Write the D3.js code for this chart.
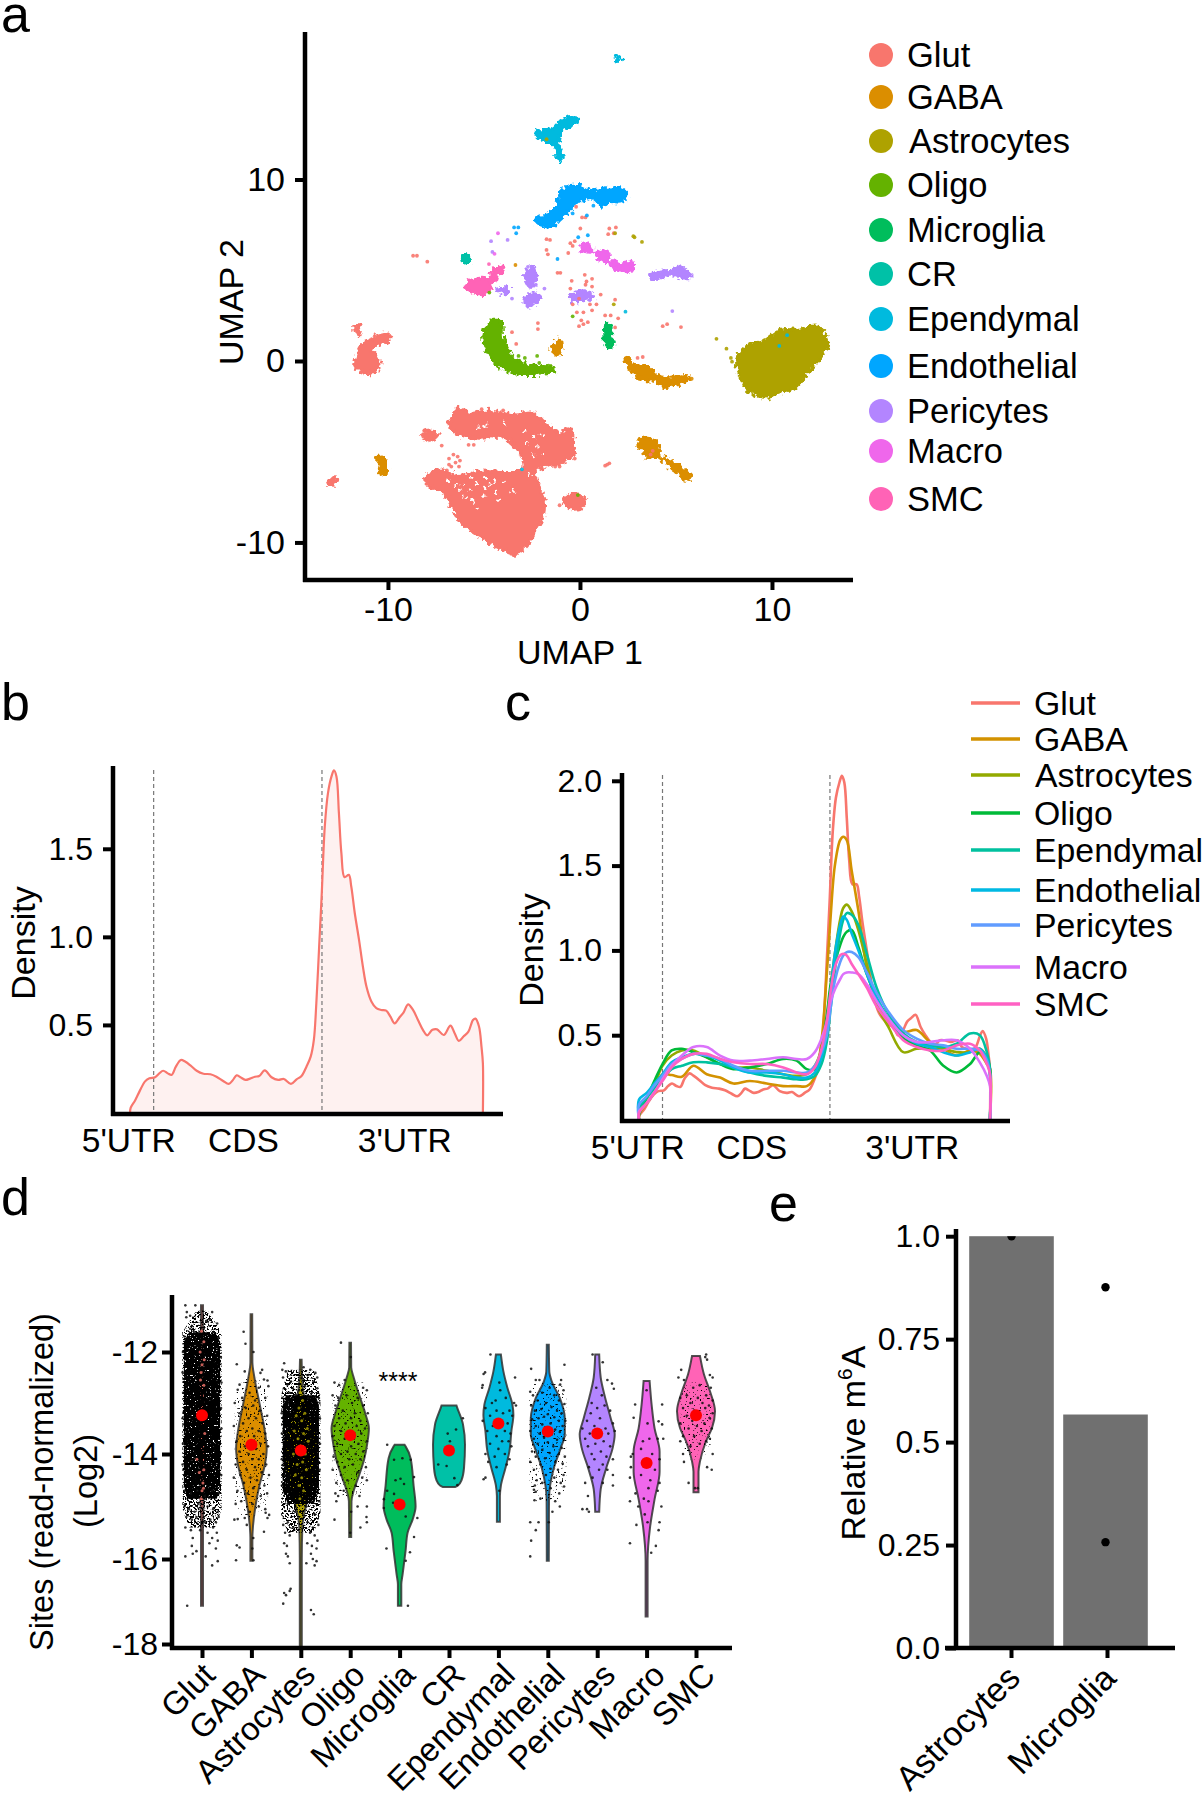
<!DOCTYPE html>
<html><head><meta charset="utf-8">
<script src="https://cdn.jsdelivr.net/npm/d3@7"></script>
<style>html,body{margin:0;padding:0;background:#fff}text{font-family:"Liberation Sans",Arial,sans-serif;fill:#000}</style>
</head><body><div id="c"></div>
<script>
// ---------- data ----------
const types11=["Glut","GABA","Astrocytes","Oligo","Microglia","CR","Ependymal","Endothelial","Pericytes","Macro","SMC"];
const colors11=["#F8766D","#DB8E00","#AEA200","#64B200","#00BD5C","#00C1A7","#00BADE","#00A6FF","#B385FF","#EF67EB","#FF63B6"];
const types9=["Glut","GABA","Astrocytes","Oligo","Ependymal","Endothelial","Pericytes","Macro","SMC"];
const colors9=["#F8766D","#D39200","#93AA00","#00BA38","#00C19F","#00B9E3","#619CFF","#DB72FB","#FF61C3"];

// UMAP: dense cell clouds as outlines [type,[u,v,...]], isolated cells as pairs
const umapClouds=[
["Glut",[-6.7,-3.2,-6.37,-2.59,-5.69,-2.88,-4.9,-2.77,-4,-2.88,-3.32,-2.98,-2.42,-2.88,-1.85,-3.42,-1.06,-3.97,-.43,-3.75,-.38,-4.73,-.27,-5.05,-.72,-5.49,-1.51,-5.71,-1.96,-5.82,-2.3,-6.03,-2.23,-6.69,-1.85,-7.78,-1.96,-8.65,-2.42,-9.52,-2.87,-10.28,-3.43,-10.65,-4.22,-10.28,-5.12,-9.74,-6.03,-9.08,-6.59,-8.21,-7.04,-7.34,-7.95,-6.8,-8.01,-6.36,-7.49,-5.99,-6.25,-6.36,-5.35,-6.08,-4,-6.14,-2.98,-6.03,-2.98,-5.38,-3.43,-4.62,-4,-4.18,-5.35,-4.25,-6.48,-3.97,-6.82,-3.42]],
["Glut",[-11.72,1.92,-11.49,1.92,-11.4,1.48,-11.63,1.48]],
["Glut",[-11.67,.17,-11.33,.94,-10.77,1.26,-9.98,1.48,-9.91,1.2,-10.54,.94,-10.88,.61,-10.54,.28,-10.43,-.26,-10.88,-.7,-11.33,-.59,-11.72,-.26]],
["Glut",[-.84,-7.6,-.16,-7.39,.29,-7.67,.18,-8,-.27,-8.17,-.72,-7.95]],
["Glut",[-8.17,-3.97,-7.83,-3.86,-7.38,-4.03,-7.61,-4.34,-7.95,-4.4,-8.17,-4.18]],
["Glut",[-13.14,-6.73,-12.8,-6.43,-12.64,-6.58,-13.02,-6.86]],
["GABA",[-10.59,-5.34,-10.2,-5.34,-10.05,-6.14,-10.41,-6.21,-10.36,-5.71]],
["GABA",[-1.17,1.26,-.99,1.05,-1.11,.39,-1.47,.5,-1.33,.89]],
["GABA",[2.39,.24,2.89,-.26,3.45,-.26,4.02,-.81,4.58,-.92,5.6,-.81,5.71,-1.02,4.7,-1.35,4.47,-1.46,3.91,-1.07,3.12,-.98,2.6,-.48]],
["GABA",[3.05,-4.4,3.45,-4.25,4.02,-4.51,4.13,-5.16,5.03,-5.71,5.76,-6.36,5.67,-6.58,4.92,-6.03,4.02,-5.27,3.45,-5.34,3.34,-4.84,3.05,-4.73]],
["Astrocytes",[8.19,.17,8.76,.83,9.66,1.15,10.45,1.7,11.47,1.7,12.26,1.92,12.82,1.37,12.87,.72,12.26,-.15,11.69,-.92,11.13,-1.57,10.45,-1.72,9.55,-2,8.87,-1.68,8.31,-.81]],
["Oligo",[-4.45,2.24,-4.11,2.14,-4,1.15,-3.43,.17,-2.64,-.26,-1.4,-.37,-1.33,-.59,-2.42,-.74,-3.32,-.7,-4.22,-.26,-4.9,.72,-5.01,1.37,-4.79,2.03]],
["Microglia",[1.31,1.98,1.6,1.98,1.6,1.37,1.76,.94,1.6,.72,1.38,.83,1.24,1.37]],
["CR",[-6.12,5.77,-5.85,5.84,-5.76,5.4,-5.98,5.4]],
["Ependymal",[1.83,16.62,2.1,16.78,2.1,16.58]],
["Ependymal",[-2.3,12.64,-1.51,12.75,-1.06,13.18,-.61,13.46,-.16,13.4,-.16,13.14,-.95,12.7,-1.11,12.16,-.93,11.07,-1.15,11.07,-1.29,11.87,-1.74,12.09,-2.19,12.37]],
["Endothelial",[-2.3,7.91,-1.74,8.06,-1.24,8.56,-.95,9.43,-.2,9.69,.52,9.39,1.87,9.54,2.44,9.22,2.21,8.78,1.53,8.78,1.2,8.52,.63,9,-.16,8.74,-.61,8.24,-1.06,7.8,-1.56,7.3,-1.96,7.47,-2.3,7.65]],
["Pericytes",[3.68,4.79,4.81,5.03,5.26,5.23,5.71,4.75,5.67,4.53,4.92,4.75,3.79,4.53]],
["Pericytes",[-.5,3.55,-.16,3.81,.41,3.81,.7,3.51,.18,3.38,-.38,3.29]],
["Pericytes",[-2.87,3.33,-2.53,3.73,-2.08,3.66,-2.3,3.22,-2.71,2.98]],
["Pericytes",[-2.87,4.86,-2.42,5.19,-2.3,4.86,-2.42,4.1,-2.64,4.1]],
["Pericytes",[-4.33,3.99,-3.72,3.99,-3.88,3.73,-4.22,3.77]],
["Macro",[.07,6.43,.63,6.27,.63,6.01,.11,6.12]],
["Macro",[.86,5.9,1.42,6.06,1.56,5.58,1.08,5.51]],
["Macro",[1.56,5.51,2.21,5.25,2.21,5.03,1.65,5.19]],
["Macro",[2.21,5.25,2.73,5.51,2.78,5.19,2.44,4.86,2.21,5.03]],
["SMC",[-5.98,4.16,-5.35,4.53,-4.79,4.47,-4.63,3.99,-5.12,3.66,-5.69,3.83]],
["SMC",[-4.72,4.53,-4.49,5.03,-4,5.23,-3.95,5.01,-4.33,4.75,-4.49,4.31]]
];
const umapGaps=[-6.03,-6.8,-5.69,-7.12,-5.35,-6.69,-5.01,-7.02,-6.03,-7.45,-5.58,-7.67,-5.01,-7.45,-4.67,-6.8,-4.33,-7.23,-4,-6.69,-3.54,-7.12,-4.22,-7.67,-5.35,-8.1,-5.35,-3.75,-4.9,-3.53,-4,-3.42,-2.87,-3.86,-2.42,-4.18,-2.19,-4.73,-2.75,-4.51,-1.96,-4.07,-2.42,-5.16,-1.96,-5.16,-2.64,-6.25,-6.48,-6.8,-6.82,-6.58,-6.25,-7.12,-4.9,-6.47,-4.45,-6.58,-5.69,-6.47];
const umapCells={
Glut:[-8.69,5.8,-8.49,5.8,-7.95,5.47,-1.74,6.71,-1.56,6.67,-1.74,6.12,-1.67,5.88,-1.17,4.86,-1.02,4.86,-.5,6.49,-.27,6.6,-.38,6.34,.02,7.3,.11,7.91,.29,7.91,-.2,8.5,1.53,7.3,1.87,7.36,1.47,6.99,1.76,7.04,-.61,5.95,-.43,4.42,.25,4.75,.34,4.38,.63,4.53,-.5,3.99,.29,4.2,.63,4.1,-.38,3.12,-.05,3.44,.52,3.12,.86,3.12,1.08,3.66,1.83,3.38,-.16,2.68,.18,2.68,.63,2.79,.07,2.24,-.05,1.92,.18,2.03,.41,2.14,1.31,2.51,1.6,2.51,1.99,2.35,1.83,1.85,4.31,1.92,4.54,2.03,5.26,1.87,-2.19,2.09,-2.19,1.76,-3.54,1.59,-3.32,.94,3,.17,3.27,.22,3.79,-4.95,3.68,-5.16,1.42,-5.71,1.53,-5.64,1.31,-5.77,-1.06,-7.95,-6.82,-5.38,-6.59,-5.16,-6.37,-5.27,-6.48,-5.6,-6.7,-5.82,-6.3,-5.82,-6.93,-6.03,-6.82,-5.71,-6.25,-5.49,-5.8,-4.62,-5.53,-4.62,-7.2,-4.66,-3.43,-4.51,-3.09,-4.95,-1.29,-5.82,-1.06,-5.82,-.27,-5.38,-.61,-3.75,-5.12,-2.66,-4,-2.72],
GABA:[-3.36,5.29,5.82,-.98],
Astrocytes:[7.11,1.22,7.63,.68,7.86,.17,7.92,-.04,2.78,6.88,2.84,6.82,3.23,6.56,1.83,7.04,1.76,3.12,-1.74,12.22],
Oligo:[-3.2,.28,-2.87,.17,-2.23,.28,-2.12,-.11,-1.63,-.26,-.38,2.46,-4.72,3.77,-3.16,.02,-.11,-7.39],
Ependymal:[2.37,2.72,10.38,.83,-3.02,-5.97,10.79,1.42],
Endothelial:[-3.43,7.36,-3.21,7.36,-3.32,7.04,.36,8.02,.7,8.56,-.09,6.82,.41,6.93,-1.17,5.62,-.38,8.13],
Pericytes:[-4.63,6.6,-3.77,6.67,-4.56,6.01,-3.54,3.44,-1.85,3.99,4.81,2.75,-2.71,5.19,-2.3,4.2],
Macro:[-4.27,7.04,-4.45,5.9],
SMC:[-4.74,5.34]
};

// Density curves (position along transcript in %, density)
const glutPct=[0,.2,1.4,2.8,4.2,5.5,7.1,8.3,9.4,10.7,11.8,13,14.4,15.6,17.2,18.9,20.8,22.8,24.5,26.4,28,29.2,30.2,31.3,32.7,34,35.4,36.6,38.2,40.1,42,43.6,45.6,47.2,48.6,50,51.2,52.1,52.8,53.6,54.3,55.2,56.1,57.1,57.8,58.5,59.2,59.9,60.8,62,62.7,63.7,64.9,66,67,68.4,69.8,71.2,72.6,73.8,75,76.4,77.5,78.8,80.2,81.6,83,84.2,85.7,87,88.9,90.8,92,93.2,94.5,95.9,97.2,97.9,98.9,99.6,100,100];
const glutPanelB=[0,.03,.07,.127,.178,.197,.203,.225,.24,.225,.216,.263,.301,.292,.269,.24,.223,.22,.206,.182,.165,.188,.214,.203,.188,.195,.206,.21,.242,.203,.188,.193,.165,.191,.21,.263,.32,.415,.623,.945,1.229,1.627,1.816,1.911,1.945,1.911,1.703,1.475,1.339,1.352,1.286,1.134,.983,.831,.718,.633,.595,.585,.581,.547,.509,.544,.57,.617,.585,.528,.472,.441,.472,.475,.443,.496,.453,.409,.434,.462,.528,.536,.491,.377,.282,0];
const glutPanelC=[0,.03,.06,.11,.15,.17,.175,.2,.215,.2,.195,.245,.275,.26,.235,.205,.19,.185,.175,.155,.14,.16,.185,.175,.16,.165,.18,.185,.205,.17,.16,.165,.14,.16,.18,.24,.31,.42,.64,.98,1.28,1.7,1.9,1.99,2.03,1.99,1.78,1.53,1.39,1.39,1.32,1.16,1,.84,.72,.63,.59,.56,.55,.5,.52,.58,.6,.62,.55,.5,.46,.44,.47,.47,.46,.47,.43,.42,.41,.43,.5,.525,.48,.38,.3,0];
const cPct=[0,2.2,4.6,6.7,9.3,12.2,15.5,19.3,23.1,26.9,31.6,36.4,41.1,44.9,47.8,50.1,52,53.5,54.6,55.8,57.3,58.2,59.2,60.6,62.5,64.9,67.7,71,75.3,79.1,82.9,86.7,90.5,94.3,97.1,99.1,100];
const cGABA=[.03,.1,.17,.27,.265,.255,.32,.27,.25,.215,.23,.215,.2,.2,.2,.255,.47,.86,1.2,1.5,1.65,1.67,1.65,1.47,1.235,.9,.69,.59,.52,.53,.46,.42,.38,.41,.39,.33,.3];
const cAstro=[.05,.13,.22,.32,.38,.41,.41,.37,.33,.31,.31,.29,.27,.26,.27,.32,.42,.58,.78,.98,1.18,1.25,1.27,1.23,1.12,.92,.68,.55,.4,.42,.42,.42,.4,.4,.42,.37,.3];
const cOligo=[.03,.13,.24,.33,.41,.42,.4,.37,.33,.3,.31,.33,.36,.35,.3,.3,.42,.62,.8,.93,1.03,1.08,1.11,1.12,1.02,.86,.72,.6,.48,.44,.41,.32,.28,.33,.4,.36,.3];
const cEpend=[.07,.13,.19,.24,.3,.32,.34,.34,.33,.31,.28,.26,.25,.24,.24,.26,.33,.46,.66,.88,1.1,1.18,1.22,1.21,1.15,.98,.78,.63,.51,.46,.44,.43,.45,.51,.5,.4,.3];
const cEndo=[.12,.16,.22,.27,.34,.37,.39,.38,.35,.31,.28,.28,.27,.25,.25,.28,.37,.52,.75,.98,1.15,1.2,1.18,1.1,1,.86,.72,.6,.5,.45,.43,.4,.38,.4,.42,.36,.26];
const cPeri=[.09,.14,.21,.26,.33,.36,.39,.38,.36,.32,.29,.29,.29,.28,.28,.32,.4,.5,.66,.82,.93,.97,.99,.99,.96,.87,.75,.64,.53,.48,.45,.44,.42,.42,.41,.35,.27];
const cMacro=[.05,.1,.17,.24,.32,.38,.43,.43,.38,.35,.35,.36,.37,.36,.36,.4,.48,.58,.7,.77,.83,.86,.87,.87,.86,.8,.7,.6,.5,.46,.46,.47,.47,.42,.34,.26,.2];
const cSMC=[.04,.1,.17,.23,.31,.36,.39,.39,.36,.34,.33,.33,.31,.28,.27,.31,.42,.58,.76,.9,.97,.98,.97,.92,.86,.78,.67,.58,.47,.43,.41,.41,.44,.45,.41,.33,.27];
const regionPct=[6.7,54.4];
const regionTicks=[[-.5,"5'UTR"],[32,"CDS"],[77.7,"3'UTR"]];

// Violin profiles: value, relative density
const violins={
Glut:[-11.1,1,-12,1.2,-12.5,2.5,-13.3,3,-14.2,3,-14.9,1.5,-15.5,1,-17.1,1],
GABA:[-11.27,.8,-12.2,1,-12.5,3,-13,8,-13.5,13,-13.9,15.3,-14.2,13.5,-14.6,8,-15,4,-15.4,1.5,-15.6,1,-16.04,1],
Astrocytes:[-12.15,.8,-12.7,2,-13.2,8,-13.6,15,-13.9,17,-14.2,16,-14.5,13,-15,5,-15.4,1.5,-16,1,-18.05,1],
Oligo:[-11.82,.8,-12.3,1,-12.5,3.5,-12.9,10,-13.2,15,-13.5,18.7,-13.8,17,-14.1,14,-14.4,9,-14.7,3.5,-14.9,1.3,-15.58,1],
Microglia:[-13.82,5,-13.85,6,-14.08,11,-14.6,14,-15,16,-15.25,13,-15.5,8,-15.84,6,-16.36,3,-16.6,1.7,-17.1,1.7],
CR:[-13.05,7.5,-13.08,8,-13.42,14,-13.82,16,-14.27,15,-14.5,12.5,-14.6,9,-14.63,6],
Ependymal:[-12.05,2.5,-12.38,5,-12.7,9,-13.03,14,-13.23,15,-13.55,13,-13.95,11,-14.27,7,-14.6,2.5,-14.8,1.5,-15.29,1.5],
Endothelial:[-11.86,1,-12.38,1.5,-12.58,4,-12.9,12,-13.3,17,-13.62,17,-13.88,13,-14.27,6,-14.86,1.2,-16.04,1],
Pericytes:[-12.05,2,-12.5,3.5,-12.9,8,-13.3,13.5,-13.62,17.5,-13.88,15.5,-14.27,9,-14.67,3.5,-15.1,2],
Macro:[-12.57,3,-13.03,5,-13.5,8,-13.95,13,-14.34,13,-14.86,8,-15.39,3.5,-16.04,1,-17.35,1],
SMC:[-12.08,4,-12.44,8,-12.77,14,-13.16,19,-13.49,16,-13.75,10,-14.14,4,-14.34,2.5,-14.73,2.5]
};
const violinMeans=[-13.24,-13.82,-13.93,-13.63,-14.96,-13.93,-13.4,-13.56,-13.6,-14.17,-13.24];
// Jittered sites: jitter (-1..1), value
const sites={
Glut:[-.9,-11.1,-.36,-11.1,-.82,-11.23,-.64,-11.3,.55,-11.23,.82,-11.45,.42,-11.38,-.85,-11.33,-.64,-11.55,-.45,-11.6,.64,-11.62,-.55,-11.5,.25,-11.4,-.95,-11.7,.9,-11.72,-1.03,-12,1.02,-12.1,-1.05,-12.4,1.05,-12.6,-1.02,-12.8,1.03,-13.1,-1.05,-13.3,1.05,-13.5,-1.03,-13.8,1.02,-14,-1.05,-14.2,1.04,-14.4,-.95,-14.7,-.6,-14.75,-.25,-14.7,.15,-14.8,.55,-14.7,.9,-14.75,-.95,-15,-.7,-15.05,-.4,-15.1,-.2,-14.95,.3,-15,.6,-15.05,.85,-15.1,-.85,-15.2,-.55,-15.25,-.3,-15.2,.15,-15.3,.45,-15.25,.75,-15.3,.9,-15.2,-.9,-15.4,-.6,-15.45,.6,-15.4,.8,-15.5,-.1,-15.45,.3,-15.5,-.5,-15.6,.55,-15.6,.85,-15.65,.4,-15.7,.75,-15.8,-.55,-15.75,-.3,-15.85,-.5,-15.9,-.9,-15.95,.2,-15.95,.85,-16.05,.55,-16.15,-.8,-17.1],
GABA:[-.42,-11.61,-.32,-11.84,-.79,-12.24,.11,-12,.58,-12.35,.49,-12.41,-.36,-12.38,.68,-12.54,.87,-12.56,-.64,-12.64,.92,-12.67,-.74,-12.74,.4,-12.7,-.1,-12.8,.2,-12.95,-.5,-12.9,.75,-12.9,-.9,-13,.1,-13.05,-.3,-13.1,.45,-13.15,-.65,-13.2,.85,-13.25,-.15,-13.3,.25,-13.3,-.45,-13.4,.6,-13.4,-.95,-13.45,.05,-13.5,-.25,-13.55,.4,-13.55,.75,-13.6,-.6,-13.65,.15,-13.65,-.8,-13.75,-.05,-13.8,.5,-13.8,.9,-13.85,-.35,-13.85,.25,-13.9,-.65,-13.95,.65,-14,-.15,-14,.05,-14.1,.4,-14.1,-.45,-14.15,-.85,-14.2,.8,-14.2,.2,-14.25,-.25,-14.3,.55,-14.35,-.6,-14.4,-.05,-14.45,.3,-14.5,.95,-14.4,-.95,-14.45,-.4,-14.55,.7,-14.6,.1,-14.65,-.75,-14.7,-.2,-14.75,.5,-14.8,.85,-14.75,-.55,-14.9,.05,-14.95,.4,-15,-.85,-14.95,.75,-15.05,-.1,-15.1,.77,-15.12,.96,-15.16,-.36,-15.22,-.74,-15.24,-.92,-15.25,.87,-15.22,-.25,-15.35,.68,-15.48,.1,-15.6,-.79,-15.74,-.64,-15.78,.05,-15.8,-.83,-16.03,.11,-16.03],
Astrocytes:[-.9,-12.22,-1,-12.35,-.81,-12.38,-.96,-12.5,.51,-12.35,.79,-12.41,.89,-12.5,.41,-12.45,.7,-12.58,-.72,-12.64,-.53,-12.58,-.91,-12.71,.89,-12.71,.6,-12.8,-.62,-12.8,.23,-12.67,-.43,-12.71,-.25,-12.84,-1,-12.9,.98,-12.9,.41,-12.9,.04,-12.51,.15,-12.3,-.1,-12.75,-1.03,-13.2,1.03,-13.3,-1.02,-13.6,1.04,-13.8,-1.03,-14.1,1.02,-14.3,-1.02,-14.6,.99,-14.9,-.7,-14.95,.3,-15,-.3,-15.1,.75,-15.15,-.95,-15.35,-.7,-15.3,-.4,-15.4,.35,-15.3,.65,-15.4,.95,-15.35,-.85,-15.5,-.6,-15.55,.5,-15.5,.75,-15.55,.9,-15.65,-.9,-15.7,-.75,-15.75,.35,-15.7,.6,-15.75,.85,-15.8,-.8,-15.9,-.7,-15.95,.55,-15.9,.65,-16,.85,-16.05,-.6,-16.1,.3,-16.1,.75,-16.15,-.9,-16.8,-.8,-16.85,-.6,-16.75,-.55,-16.7,-.95,-17.05,.55,-17.2,.7,-17.3],
Oligo:[-.5,-11.82,.03,-12.1,-.85,-12.6,-.6,-12.65,-.3,-12.55,.7,-12.7,.9,-12.75,-.95,-12.85,-.65,-12.9,-.2,-12.85,.4,-12.9,.1,-13,-.8,-13.05,.7,-13.05,-.4,-13.15,.25,-13.2,.95,-13.2,-.6,-13.3,.05,-13.3,.55,-13.35,-.25,-13.4,-.85,-13.45,.35,-13.45,.8,-13.5,-.05,-13.55,-.5,-13.55,.6,-13.6,-.95,-13.65,.2,-13.7,-.3,-13.7,.9,-13.75,-.7,-13.8,.45,-13.8,.05,-13.85,-.15,-13.95,.7,-13.95,-.5,-14,.3,-14,-.9,-14.05,-.05,-14.1,.55,-14.1,-.7,-14.15,.15,-14.2,-.3,-14.25,.85,-14.25,-.95,-14.3,.4,-14.35,-.5,-14.4,.65,-14.45,-.15,-14.5,.9,-14.5,-.75,-14.55,.3,-14.6,-.35,-14.7,-.8,-14.75,-.65,-14.8,.5,-14.8,-.75,-14.9,.4,-15,.9,-15,.05,-15.1,.88,-15.2,-.85,-15.25,.9,-15.3,.55,-15.4,0,-15.5],
Microglia:[-.67,-13.82,-.3,-14.11,.6,-14.11,-.22,-14.5,.05,-14.47,.24,-14.57,.78,-14.44,-.67,-14.7,-.3,-14.76,-.35,-14.93,-.85,-15.03,.33,-15.19,.96,-15.22,.78,-15.58,-.71,-15.8,.56,-15.87,.33,-16.04,.45,-17.1,-.85,-14.86,.15,-14.08],
CR:[.75,-13.3,-.07,-13.6,.38,-13.52,-.58,-14.2,-.13,-14.23,.29,-14.46,.45,-14.59,.05,-13.75],
Ependymal:[-.43,-12.05,-.72,-12.4,-.8,-12.43,-.85,-12.65,-.88,-12.7,.9,-12.5,.05,-12.6,.1,-12.75,-.15,-12.95,.4,-12.9,-.35,-13,.85,-13,.95,-13.05,.6,-13.15,-.7,-13.1,-.1,-13.15,.25,-13.2,-.45,-13.25,.75,-13.25,.05,-13.35,-.85,-13.35,.5,-13.4,-.3,-13.45,.35,-13.55,-.6,-13.55,.65,-13.6,-.1,-13.65,.2,-13.75,.55,-13.75,-.45,-13.8,.7,-13.85,0,-13.9,-.7,-14,.35,-14,-.2,-14.05,.6,-14.1,-.55,-14.15,-.1,-14.25,.45,-14.2,-.7,-14.45,-.8,-14.48,.05,-14.7],
Endothelial:[.9,-12.25,-.9,-12.33,-.65,-12.55,-.45,-12.55,.72,-12.55,.67,-12.64,.85,-12.75,-.95,-12.78,-.8,-12.85,-.3,-12.8,.1,-12.7,.35,-12.85,.6,-12.95,-.55,-12.95,-.1,-13,.9,-13.02,-.9,-13.05,.2,-13.08,-.35,-13.12,.5,-13.15,-.7,-13.15,.75,-13.2,0,-13.22,-.2,-13.27,.35,-13.28,-.5,-13.3,-.85,-13.32,.6,-13.35,.95,-13.35,.15,-13.4,-.3,-13.42,.8,-13.45,-.65,-13.45,-.05,-13.5,.4,-13.52,-.95,-13.55,.65,-13.57,-.45,-13.6,.2,-13.62,-.2,-13.68,.85,-13.7,-.75,-13.7,.5,-13.72,0,-13.77,-.55,-13.8,.3,-13.85,.75,-13.88,-.3,-13.92,-.85,-13.95,.1,-13.98,.6,-14,-.65,-14.05,.92,-14.05,-.15,-14.08,.4,-14.15,-.95,-14.15,.8,-14.18,-.4,-14.2,.15,-14.28,-.75,-14.3,.55,-14.3,-.1,-14.4,.85,-14.4,.35,-14.45,-.6,-14.5,.7,-14.55,-.7,-14.6,-.3,-14.55,.15,-14.65,.88,-14.62,-.75,-14.68,-.65,-14.72,.62,-14.75,-.4,-14.85,-.72,-14.88,.4,-14.9,.65,-15,.25,-15.1,-.95,-15.3,-.5,-15.3,-.65,-15.45,.05,-15.3,-.9,-15.65,-.95,-15.95],
Pericytes:[-.25,-12.05,.3,-12.2,.55,-12.55,.8,-12.62,.9,-12.72,-.05,-12.7,.25,-12.85,-.3,-13,.4,-13.05,0,-13.1,.7,-13.15,-.35,-13.2,-.55,-13.35,.85,-13.4,.15,-13.3,-.15,-13.45,.45,-13.5,-.8,-13.5,.6,-13.6,-.4,-13.6,.95,-13.55,.1,-13.65,-.65,-13.7,.35,-13.75,-.1,-13.8,.7,-13.85,-.5,-13.85,.2,-13.95,-.3,-14,.5,-14.05,.85,-14.1,-.15,-14.1,.3,-14.2,-.45,-14.25,.1,-14.3,.55,-14.3,-.25,-14.45,.85,-14.4,.3,-14.55,-.65,-14.55,.85,-14.6,-.5,-14.8,-.8,-15.05,-.55,-15.05,-.45,-15.1],
Macro:[0,-12.75,-.62,-13.03,.84,-13.03,-.7,-13.29,.05,-13.4,.65,-13.36,.84,-13.42,-.2,-13.75,.15,-13.7,.6,-13.7,.9,-13.7,-.75,-14,-.3,-13.9,.3,-14,-.85,-14.05,.7,-14.1,-.1,-14.2,.45,-14.3,-.85,-14.25,-.3,-14.4,.2,-14.5,-.9,-14.45,.7,-14.55,.1,-14.65,-.6,-14.75,.6,-14.7,-.15,-14.85,.1,-14.9,-.9,-14.9,-.45,-15,.8,-15,-.1,-15.15,.05,-15.3,.7,-15.3,-.55,-15.35,.65,-15.45,-.9,-15.7,.5,-15.75,.25,-15.88],
SMC:[.55,-12.05,.6,-12.15,.5,-12.1,-.8,-12.35,-.95,-12.5,-.65,-12.55,.75,-12.45,.9,-12.5,-.15,-12.7,.2,-12.65,.8,-12.7,-.5,-12.85,.55,-12.85,-.85,-12.9,.1,-12.9,.9,-12.95,-.3,-13,.35,-13,.7,-13.05,-.7,-13.1,-.1,-13.15,.5,-13.1,.9,-13.2,-.5,-13.25,.2,-13.25,-.2,-13.35,.75,-13.3,-.85,-13.4,.45,-13.4,.05,-13.45,-.4,-13.5,.85,-13.5,.3,-13.55,-.7,-13.65,-.1,-13.65,.75,-13.7,.55,-13.75,-.85,-13.75,.2,-13.8,-.3,-13.85,.9,-14,-.7,-14,-.65,-14.15,.6,-14.25,.85,-14.3,-.4,-14.55,-.05,-14.65,.1,-14.65]
};
// Where the sites are so many they merge: value, jitter half-extent
const mergedSites={Glut:[-11.62,.7,-11.8,.98,-14.6,.98,-14.85,.8],Astrocytes:[-12.85,.8,-13.05,.98,-14.7,.98,-14.95,.7]};
const crowdedSites={Glut:[-11.2,.3,-11.62,1.06,-15.05,1.06,-15.4,.7],Astrocytes:[-12.35,.7,-12.85,1.06,-15.15,1.06,-15.5,.7]};
const scatteredSites={GABA:[-12.5,.5,-12.9,.9,-14.9,.9,-15.2,.5],Oligo:[-12.6,.7,-12.9,.95,-14.4,.95,-14.8,.5],Endothelial:[-12.6,.7,-12.9,1,-14.6,1,-14.9,.6],SMC:[-12.6,.6,-13,.85,-13.8,.8,-14.1,.4]};
const showThrough={Glut:[-.03,-11.6,.1,-11.8,-.1,-12,.12,-12.15,0,-12.25,-.05,-12.4,.15,-13.6,-.28,-14.1,.1,-14.3,-.15,-14.35,.05,-14.55,0,-14.7,-.05,-14.85,.08,-14.65,-.08,-12.55,.1,-12.65],
Astrocytes:[0,-12.8,.1,-12.95,-.1,-13.1,.22,-13.2,-.25,-13.25,.05,-13.35,.35,-13.5,-.35,-13.55,.15,-13.6,-.15,-13.7,.4,-13.75,-.05,-13.85,.25,-14,-.4,-14,.1,-14.15,-.2,-14.2,.3,-14.3,-.3,-14.4,.05,-14.45,-.1,-14.6,.15,-14.7,-.05,-14.85,.03,-15]};
const sigMark="****";

// Bars
const barCats=["Astrocytes","Microglia"];
const barMeans=[1,.567];
const barReps=[[1],[.876,.257]];

// ---------- page ----------
const svg=d3.select("#c").append("svg").attr("width",1204).attr("height",1800).style("display","block");
// texture filters: grain of merged dots (appearance only, no values come from them)
const defs=svg.append("defs");
function grain(id,t,freq){
 const f=defs.append("filter").attr("id",id).attr("filterUnits","userSpaceOnUse").attr("x",0).attr("y",0).attr("width",1204).attr("height",1800).attr("color-interpolation-filters","sRGB");
 f.append("feTurbulence").attr("type","fractalNoise").attr("baseFrequency",freq).attr("numOctaves",2).attr("seed",5).attr("result","n");
 f.append("feColorMatrix").attr("in","n").attr("type","matrix").attr("values",`0 0 0 0 0 0 0 0 0 0 0 0 0 0 0 14 0 0 0 ${-14*t}`).attr("result","m");
 f.append("feComposite").attr("in","SourceGraphic").attr("in2","m").attr("operator","in").attr("result","c");
 f.append("feGaussianBlur").attr("in","c").attr("stdDeviation",.45);
}
grain("solid",.28,.6);grain("crowded",.5,.55);grain("scattered",.66,.5);
{
 const f=defs.append("filter").attr("id","rough").attr("filterUnits","userSpaceOnUse").attr("x",0).attr("y",0).attr("width",1204).attr("height",1800).attr("color-interpolation-filters","sRGB");
 f.append("feTurbulence").attr("type","fractalNoise").attr("baseFrequency",.22).attr("numOctaves",2).attr("seed",8).attr("result","n");
 f.append("feDisplacementMap").attr("in","SourceGraphic").attr("in2","n").attr("scale",9).attr("xChannelSelector","R").attr("yChannelSelector","G").attr("result","d");
 f.append("feGaussianBlur").attr("in","d").attr("stdDeviation",.45);
}
const FS=34,AW=4.5;
function label(x,y,t,size,opts={}){const s=svg.append("text").attr("x",x).attr("y",y).attr("font-size",size).text(t);
 if(opts.anchor)s.attr("text-anchor",opts.anchor);
 if(opts.rot!==undefined)s.attr("transform",`rotate(${opts.rot},${x},${y})`);return s;}
function rotY(x,y,t,size){return label(x,y,t,size,{anchor:"middle",rot:-90});}
const pairs=a=>d3.range(0,a.length,2).map(i=>[a[i],a[i+1]]);
function axL(x,sc,vals,fmt,y1,y2,size,pad=10){
 const g=svg.append("g").attr("transform",`translate(${x},0)`).call(d3.axisLeft(sc).tickValues(vals).tickFormat(fmt).tickSize(10).tickPadding(pad));
 g.select(".domain").remove();g.selectAll(".tick line").attr("stroke","#000").attr("stroke-width",AW-.5);
 g.selectAll("text").attr("font-size",size).attr("font-family",'"Liberation Sans"');
 svg.append("line").attr("x1",x).attr("x2",x).attr("y1",y1).attr("y2",y2).attr("stroke","#000").attr("stroke-width",AW);return g;}
function axB(y,sc,vals,fmt,x1,x2,size,showTicks=true,pad=10){
 const g=svg.append("g").attr("transform",`translate(0,${y})`).call(d3.axisBottom(sc).tickValues(vals).tickFormat(fmt).tickSize(10).tickPadding(pad));
 g.select(".domain").remove();g.selectAll(".tick line").attr("stroke","#000").attr("stroke-width",AW-.5).attr("opacity",showTicks?1:0);
 g.selectAll("text").attr("font-size",size).attr("font-family",'"Liberation Sans"');
 svg.append("line").attr("x1",x1).attr("x2",x2).attr("y1",y).attr("y2",y).attr("stroke","#000").attr("stroke-width",AW);return g;}

// panel letters
[["a",1,32],["b",1,720],["c",505,720],["d",1,1215],["e",769,1221]].forEach(d=>label(d[1],d[2],d[0],52));

// ---------- a ----------
{
 const x=d3.scaleLinear([-14.32,14.22],[305,853]),y=d3.scaleLinear([-12.07,18.13],[580,32]);
 const col=d3.scaleOrdinal(types11,colors11);
 const g=svg.append("g").attr("filter","url(#rough)");
 const ln=d3.line(d=>x(d[0]),d=>y(d[1])).curve(d3.curveCatmullRomClosed.alpha(.5));
 g.selectAll("path").data(umapClouds).join("path").attr("d",d=>ln(pairs(d[1]))).attr("fill",d=>col(d[0])).attr("stroke",d=>col(d[0])).attr("stroke-width",3).attr("stroke-linejoin","round");
 g.append("g").selectAll("circle").data(pairs(umapGaps)).join("circle").attr("cx",d=>x(d[0])).attr("cy",d=>y(d[1])).attr("r",1.6).attr("fill","#fff");
 Object.entries(umapCells).forEach(([k,v])=>{
  svg.append("g").selectAll("circle").data(pairs(v)).join("circle").attr("cx",d=>x(d[0])).attr("cy",d=>y(d[1])).attr("r",1.9).attr("fill",col(k)).attr("fill-opacity",.9);
 });
 axL(305,y,[-10,0,10],String,32,582,FS);
 const gx=axB(580,x,[-10,0,10],String,303,853,FS);
 gx.selectAll("text").attr("dy",null).attr("y",41);
 label(580,664,"UMAP 1",34,{anchor:"middle"});
 rotY(243,302,"UMAP 2",34);
 const lg=[55,97,141,185,230,274,319,366,411,451,499];
 types11.forEach((t,i)=>{
  svg.append("circle").attr("cx",881).attr("cy",lg[i]).attr("r",12).attr("fill",colors11[i]);
  label(t==="Astrocytes"?909:907,lg[i]+12,t,34.5);
 });
}
// ---------- b ----------
{
 const x=d3.scaleLinear([-4.82,105.7],[113,503]),y=d3.scaleLinear([0,1.97],[1113,766]);
 const d=d3.zip(glutPct,glutPanelB);
 svg.append("path").attr("d",d3.area(p=>x(p[0]),y(0),p=>y(p[1])).curve(d3.curveCatmullRom.alpha(.5))(d)).attr("fill","#F8766D").attr("fill-opacity",.1);
 regionPct.forEach(p=>svg.append("line").attr("x1",x(p)).attr("x2",x(p)).attr("y1",770).attr("y2",1113).attr("stroke","#777").attr("stroke-width",1.2).attr("stroke-dasharray","4,3"));
 svg.append("path").attr("d",d3.line(p=>x(p[0]),p=>y(p[1])).curve(d3.curveCatmullRom.alpha(.5))(d)).attr("fill","none").attr("stroke","#F8766D").attr("stroke-width",2.2);
 axL(113,y,[.5,1,1.5],d3.format(".1f"),766,1116,32);
 const gx=axB(1114,x,regionTicks.map(t=>t[0]),(v,i)=>regionTicks[i][1],111,503,33.5,false);
 gx.selectAll("text").attr("dy",null).attr("y",38);
 rotY(35,943,"Density",34);
}
// ---------- c ----------
{
 const x=d3.scaleLinear([-4.84,105.7],[622,1010]),y=d3.scaleLinear([0,2.046],[1120,773]);
 const ln=d3.line(p=>x(p[0]),p=>y(p[1])).curve(d3.curveCatmullRom.alpha(.5));
 regionPct.forEach(p=>svg.append("line").attr("x1",x(p)).attr("x2",x(p)).attr("y1",775).attr("y2",1120).attr("stroke","#777").attr("stroke-width",1.2).attr("stroke-dasharray","4,3"));
 const closed=v=>[[0,0],...d3.zip(cPct,v),[100,0]];
 const curves=[d3.zip(glutPct,glutPanelC),closed(cGABA),closed(cAstro),closed(cOligo),closed(cEpend),closed(cEndo),closed(cPeri),closed(cMacro),closed(cSMC)];
 curves.forEach((c,i)=>svg.append("path").attr("d",ln(c)).attr("fill","none").attr("stroke",colors9[i]).attr("stroke-width",2.6));
 axL(622,y,[.5,1,1.5,2],d3.format(".1f"),773,1123,32);
 const gx=axB(1121,x,regionTicks.map(t=>t[0]),(v,i)=>regionTicks[i][1],620,1010,33.5,false);
 gx.selectAll("text").attr("dy",null).attr("y",38);
 rotY(543,950,"Density",34);
 const ly=[703,739,775,813,850,890,925,967,1004];
 types9.forEach((t,i)=>{
  svg.append("line").attr("x1",971).attr("x2",1020).attr("y1",ly[i]).attr("y2",ly[i]).attr("stroke",colors9[i]).attr("stroke-width",3.4);
  label(t==="Astrocytes"?1035:1034,ly[i]+12,t,33.8);
 });
}
// ---------- d ----------
{
 const x=d3.scalePoint(types11,[202,696]);
 const xLabel=d3.scalePoint(types11,[217,717]);
 const y=d3.scaleLinear([-18.1,-18,-16,-14,-12,-10.9],[1648,1644,1559,1454,1352,1295]);
 const w=d3.scaleLinear([0,20],[0,20]);
 const jit=d3.scaleLinear([-1,1],[-18.5,18.5]);
 const col=d3.scaleOrdinal(types11,colors11);
 types11.forEach((t,i)=>{
  const cx=x(t),g=svg.append("g");
  const prof=pairs(violins[t]);
  g.append("path").attr("d",d3.area().y(p=>y(p[0])).x0(p=>cx-w(p[1])).x1(p=>cx+w(p[1])).curve(d3.curveMonotoneY)(prof))
   .attr("fill",col(t)).attr("stroke","#333").attr("stroke-opacity",.85).attr("stroke-width",2);
  const env=(a)=>d3.area().y(p=>y(p[0])).x0(p=>cx+jit(-p[1])).x1(p=>cx+jit(p[1]))(pairs(a));
  if(crowdedSites[t]){
   g.append("path").attr("d",env(crowdedSites[t])).attr("fill","#000").attr("filter","url(#crowded)");
   g.append("path").attr("d",env(mergedSites[t])).attr("fill","#000").attr("filter","url(#solid)");
   g.selectAll("circle.s").data(pairs(showThrough[t])).join("circle").attr("class","s").attr("cx",p=>cx+jit(p[0])).attr("cy",p=>y(p[1])).attr("r",1.5).attr("fill",col(t)).attr("fill-opacity",.8);
  }
  if(scatteredSites[t]) g.append("path").attr("d",env(scatteredSites[t])).attr("fill","#000").attr("filter","url(#scattered)");
  g.selectAll("circle.j").data(pairs(sites[t])).join("circle").attr("class","j").attr("cx",p=>cx+jit(p[0])).attr("cy",p=>y(p[1])).attr("r",1.3).attr("fill","#111").attr("fill-opacity",.85);
  g.append("circle").attr("cx",cx).attr("cy",y(violinMeans[i])).attr("r",6).attr("fill","#FF0000");
 });
 axL(172,y,[-18,-16,-14,-12],String,1295,1650,32,4);
 axB(1648,x,types11,()=>"",170,732,32);
 types11.forEach(t=>label(xLabel(t),1677,t,32.8,{anchor:"end",rot:-45}));
 label(398,1390,sigMark,25,{anchor:"middle"});
 rotY(53,1482,"Sites (read-normalized)",32.5);
 rotY(97,1481,"(Log2)",32.5);
}
// ---------- e ----------
{
 const x=d3.scaleBand(barCats,[964.5,1152.5]).paddingInner(.1).paddingOuter(.05);
 const y=d3.scaleLinear([0,1.0175],[1648,1229]);
 svg.selectAll("rect.b").data(barCats).join("rect").attr("class","b").attr("x",d=>x(d)).attr("width",x.bandwidth()).attr("y",(d,i)=>y(barMeans[i])).attr("height",(d,i)=>1648-y(barMeans[i])).attr("fill","#707070");
 svg.append("clipPath").attr("id","ec").append("rect").attr("x",950).attr("y",y(1)).attr("width",230).attr("height",420);
 barCats.forEach((c,i)=>barReps[i].forEach(v=>svg.append("circle").attr("clip-path","url(#ec)").attr("cx",x(c)+x.bandwidth()/2).attr("cy",y(v)).attr("r",4.2).attr("fill","#000")));
 axL(956,y,[0,.25,.5,.75,1],v=>v===.25||v===.75?String(v):d3.format(".1f")(v),1229,1650,32,6);
 const pos=d3.scalePoint(barCats,[1011,1107]);
 axB(1648,pos,barCats,()=>"",945,1175,32);
 barCats.forEach(c=>label(pos(c)+11,1680,c,34,{anchor:"end",rot:-45}));
 const t=svg.append("text").attr("transform","translate(865,1443) rotate(-90)").attr("text-anchor","middle").attr("font-size",34);
 t.append("tspan").text("Relative m");
 t.append("tspan").attr("font-size",21).attr("dy",-13).text("6");
 t.append("tspan").attr("dy",13).text("A");
}
</script></body></html>
